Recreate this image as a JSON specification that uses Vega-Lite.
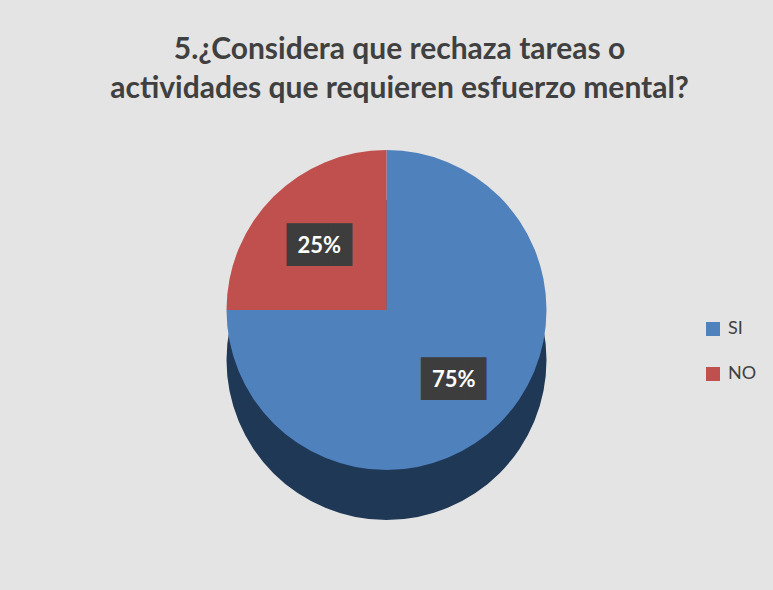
{
  "$schema": "https://vega.github.io/schema/vega-lite/v6.json",
  "width": 773,
  "height": 480,
  "autosize": "none",
  "padding": {"top": 110, "left": 0, "right": 0, "bottom": 0},
  "background": "#e4e4e4",
  "config": {"view": {"stroke": null}},
  "title": {
    "text": ["5.¿Considera que rechaza tareas o\u2003\u2002", "actividades que requieren esfuerzo mental?"],
    "font": "Lato",
    "fontSize": 30,
    "fontWeight": "bold",
    "color": "#404040",
    "lineHeight": 39,
    "anchor": "middle",
    "dx": 13,
    "offset": 6
  },
  "data": {
    "values": [
      {"respuesta": "SI", "porcentaje": 75, "etiqueta": "75%", "orden": 1},
      {"respuesta": "NO", "porcentaje": 25, "etiqueta": "25%", "orden": 2}
    ]
  },
  "encoding": {
    "theta": {"field": "porcentaje", "type": "quantitative", "stack": true},
    "order": {"field": "orden", "type": "quantitative"}
  },
  "layer": [
    {
      "mark": {"type": "arc", "radius": 160, "yOffset": 10, "color": "#1f3856"}
    },
    {
      "mark": {"type": "arc", "radius": 160, "yOffset": -40},
      "encoding": {
        "color": {
          "field": "respuesta",
          "type": "nominal",
          "scale": {"domain": ["SI", "NO"], "range": ["#4f81bd", "#c0504d"]},
          "legend": {
            "title": null,
            "orient": "none",
            "legendX": 704,
            "legendY": 210,
            "symbolType": "square",
            "symbolSize": 196,
            "symbolStrokeWidth": 0,
            "labelFont": "Lato",
            "labelFontSize": 18,
            "labelColor": "#404040",
            "rowPadding": 27,
            "labelOffset": 6
          }
        }
      }
    },
    {
      "mark": {
        "type": "text",
        "radius": 95,
        "yOffset": -37,
        "text": "███",
        "font": "DejaVu Sans Mono",
        "fontSize": 36,
        "color": "#3d3d3d",
        "baseline": "middle",
        "align": "center"
      }
    },
    {
      "mark": {
        "type": "text",
        "radius": 95,
        "yOffset": -37,
        "font": "Lato",
        "fontSize": 22,
        "fontWeight": "bold",
        "color": "white",
        "baseline": "middle",
        "align": "center"
      },
      "encoding": {"text": {"field": "etiqueta"}}
    }
  ]
}
